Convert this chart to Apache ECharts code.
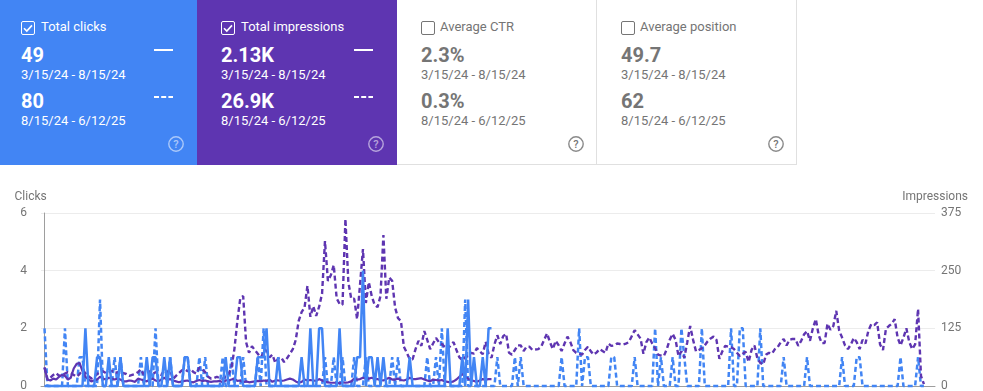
<!DOCTYPE html>
<html><head><meta charset="utf-8">
<script src="https://cdn.jsdelivr.net/npm/echarts@6/dist/echarts.min.js"></script>
<style>
html,body{margin:0;padding:0;width:983px;height:391px;background:#fff;overflow:hidden;font-family:Roboto,sans-serif}
#chart{position:absolute;left:0;top:166px;width:983px;height:226px}
.card{position:absolute;top:0;height:165px;box-sizing:border-box;color:#fff}
.card.off{color:#757575;border-right:1px solid #e0e0e0;border-bottom:1px solid #e0e0e0}
.card div,.card svg{position:absolute}
.t{top:19px;font-size:13px;line-height:16px;white-space:nowrap;font-weight:400}
.v{font-size:20px;line-height:24px;font-weight:700}
.d{font-size:13px;line-height:16px;white-space:nowrap}
.box{top:21px;width:14px;height:14px}
</style></head><body>
<div id="cards"></div>
<div id="chart"></div>
<script>
const cardTitles = ["Total clicks","Total impressions","Average CTR","Average position"];
const cardFirst = ["49","2.13K","2.3%","49.7"];
const cardSecond = ["80","26.9K","0.3%","62"];
const rangeFirst = "3/15/24 - 8/15/24";
const rangeSecond = "8/15/24 - 6/12/25";
const clicksTicks = [0,2,4,6];
const imprTicks = [0,125,250,375];

const clicksCurrent = [
0,0,0,0,0,0,0,0,0,0, 0,0,0,0,2,0,0,0,1,1, 0,0,1,0,0,0,1,0,0,0, 0,0,0,0,0,1,0,1,1,0,
0,1,0,1,0,0,0,0,1,1, 0,0,0,0,0,0,0,0,0,0, 0,0,1,0,0,0,1,1,0,0, 0,0,0,1,1,1,2,0,0,0,
1,0,0,0,0,0,0,0,1,0, 0,2,0,0,2,2,0,0,0,0, 0,2,0,0,0,0,0,1,1,4, 0,1,1,0,1,0,1,0,0,0,
0,0,0,0,0,1,0,0,0,0, 0,0,0,0,0,0,0,0,2,0, 0,0,0,1,0,3,0,1,0,0, 1,0,2,2];

const clicksDashed = [
2,0,0,0,0,0,0,2,0,0, 0,0,1,1,0,0,0,0,0,3, 0,0,0,0,1,0,1,0,0,0, 0,0,0,1,0,0,0,0,2,0,
0,0,0,1,0,0,0,0,1,1, 0,0,0,1,0,1,0,0,0,0, 0,1,0,0,1,0,0,0,1,0, 0,0,0,1,0,2,0,0,0,0,
0,0,0,0,0,0,0,0,0,0, 0,0,0,0,0,0,1,0,0,1, 0,0,1,0,0,0,1,0,0,0, 1,0,0,0,0,0,0,0,0,1,
0,1,0,0,0,0,0,0,0,0, 0,1,0,0,1,0,2,0,0,0, 0,0,0,0,3,0,0,0,0,0, 0,0,0,0,0,1,0,0,0,0,
0,1,0,1,0,0,0,0,0,0, 0,0,0,0,0,0,0,1,0,0, 0,0,0,2,0,1,1,0,0,0, 0,0,0,0,1,1,0,0,0,0,
0,0,1,0,0,0,0,0,0,2, 0,1,0,0,0,1,0,0,2,1, 0,0,0,0,0,2,0,0,0,0, 0,0,0,0,0,2,0,0,2,2,
0,0,0,0,0,2,0,0,0,0, 0,0,0,1,0,0,0,0,0,0, 0,1,0,0,0,0,0,0,0,0, 0,0,0,1,0,0,0,0,1,1,
0,0,0,0,0,0,0,0,0,0, 0,0,0,1,0,0,0,0,0,1, 0,0];

const imprCurrent = [
40,14,12,16,14,20,24,22,14,18, 38,48,50,32,20,14,10,12,14,20, 16,14,18,16,14,16,14,10,10,12,
11,9,16,14,12,10,14,16,12,10, 14,18,14,15,12,10,8,10,11,12, 9,8,11,13,11,12,10,9,10,10,
11,8,12,12,14,16,11,12,8,10, 8,9,10,11,10,12,11,14,9,12, 12,11,12,14,16,14,10,7,9,14,
12,13,12,11,15,12,9,8,7,7, 7,6,8,7,8,10,16,14,15,18, 16,16,18,15,15,13,12,15,18,14,
14,16,13,12,14,18,15,15,16,17, 14,12,10,14,13,12,13,10,9,8, 10,14,20,26,20,16,12,11,9,12,
15,14,15,15];

const imprDashed = [
40,14,18,24,28,22,24,27,30,28, 24,20,26,34,28,22,16,20,26,30, 32,28,30,33,28,30,24,28,26,22,
24,26,30,36,24,28,32,26,30,28, 24,34,30,35,15,22,28,34,36,32, 37,30,27,40,36,30,20,16,17,20,
17,15,22,26,40,80,140,190,195,95, 72,86,78,70,62,72,78,62,68,50, 60,62,52,60,70,80,100,141,160,170,
217,150,173,152,172,200,314,228,240,262, 190,178,176,362,225,189,189,145,220,297, 180,225,195,176,171,195,327,189,235,228,
170,147,141,85,72,58,58,80,98,87, 119,100,80,92,104,95,91,85,80,88, 95,78,62,56,62,65,72,70,82,75,
69,96,70,61,90,110,91,108,113,72, 68,78,88,88,76,85,85,78,79,80, 85,100,114,95,80,98,88,76,92,107,
95,78,72,70,68,78,85,75,68,73, 80,76,72,92,87,88,92,91,90,92, 95,108,121,112,103,70,95,105,92,82,
68,66,65,80,100,113,100,65,75,61, 95,130,100,75,78,82,88,97,103,107, 100,59,75,87,85,84,80,72,65,70,
74,52,78,88,60,50,47,68,72,70, 80,85,95,102,88,100,102,102,87,98, 112,119,98,125,145,110,93,93,135,122,
130,163,120,105,88,80,90,104,95,80, 100,92,120,134,132,138,90,78,124,130, 135,145,105,88,105,125,95,80,90,167,
22,4];

const BLUE="#4285f4", PURPLE="#5e35b1", GREY="#757575";

// cards
const lefts=[0,197,397,597], widths=[197,200,200,200], bgs=[BLUE,PURPLE,"#fff","#fff"], pads=[21,24,24,24];
document.getElementById('cards').innerHTML = cardTitles.map((t,i)=>{
  const on=i<2, p=pads[i];
  const box = on
   ? `<svg class="box" style="left:${p}px" viewBox="0 0 14 14"><rect x=".5" y=".5" width="13" height="13" rx="1.5" fill="none" stroke="#fff"/><path d="M3 7.2l2.8 2.8L11 4.4" fill="none" stroke="#fff" stroke-width="1.6"/></svg>`
   : `<svg class="box" style="left:${p}px" viewBox="0 0 14 14"><rect x=".5" y=".5" width="13" height="13" rx="1.5" fill="none" stroke="#757575"/></svg>`;
  const legend = on
   ? `<svg style="left:${p+133}px;top:49px" width="20" height="3"><rect width="19" height="2" fill="#fff"/></svg>
      <svg style="left:${p+133}px;top:96px" width="20" height="3"><path d="M0 1H19" stroke="#fff" stroke-width="2" stroke-dasharray="5 2.2"/></svg>` : '';
  const cx=i==0?176:179;
  const help=`<svg style="left:${cx-9}px;top:135px;opacity:${on?.55:1}" width="18" height="18" viewBox="0 0 18 18"><circle cx="9" cy="9" r="7.2" fill="none" stroke="${on?'#fff':'#8a8a8a'}" stroke-width="1.4"/><text x="9" y="13" text-anchor="middle" font-size="11" font-weight="500" font-family="Roboto" fill="${on?'#fff':'#757575'}">?</text></svg>`;
  return `<div class="card ${on?'':'off'}" style="left:${lefts[i]}px;width:${widths[i]}px;background:${bgs[i]}">
    ${box}<div class="t" style="left:${p+(on?20:19)}px">${t}</div>
    <div class="v" style="left:${p}px;top:43px">${cardFirst[i]}</div><div class="d" style="left:${p}px;top:67px">${rangeFirst}</div>
    <div class="v" style="left:${p}px;top:89px">${cardSecond[i]}</div><div class="d" style="left:${p}px;top:113px">${rangeSecond}</div>
    ${legend}${help}</div>`;
}).join('');

const pairs = a => a.map((v,i)=>[i,v]);
const chart = echarts.init(document.getElementById('chart'),null,{renderer:'canvas'});
const lineBase = {type:'line',showSymbol:false,symbol:'none',clip:false,animation:false,silent:true};
const labelStyle = {color:GREY,fontFamily:'Roboto',fontSize:12};
chart.setOption({
  animation:false,
  grid:{left:41,right:48,top:47,bottom:6,outerBoundsMode:'none'},
  xAxis:{type:'value',min:-1.2,max:304.8,axisLabel:{show:false},axisTick:{show:false},splitLine:{show:false},
    axisLine:{show:true,onZero:false,lineStyle:{color:'#9e9e9e',width:1}}},
  yAxis:[
   {type:'value',min:clicksTicks[0],max:clicksTicks[3],interval:2,name:'Clicks',nameLocation:'end',nameGap:10,
    nameTextStyle:{color:GREY,fontFamily:'Roboto',fontSize:12,align:'left',padding:[0,0,0,-30]},
    axisLine:{show:true,lineStyle:{color:'#9e9e9e'}},axisTick:{show:false},
    axisLabel:{...labelStyle,margin:14},splitLine:{show:true,lineStyle:{color:'#ececec',width:1}}},
   {type:'value',position:'right',min:imprTicks[0],max:imprTicks[3],interval:125,name:'Impressions',nameLocation:'end',nameGap:10,
    nameTextStyle:{color:GREY,fontFamily:'Roboto',fontSize:12,align:'right',padding:[0,-33,0,0]},
    axisLine:{show:false},axisTick:{show:false},
    axisLabel:{...labelStyle,margin:6},splitLine:{show:false}}
  ],
  series:[
   {...lineBase,name:'Clicks 8/15/24 - 6/12/25',yAxisIndex:0,data:pairs(clicksDashed),lineStyle:{color:BLUE,width:2.5,type:[5,3]},z:2},
   {...lineBase,name:'Impressions 8/15/24 - 6/12/25',yAxisIndex:1,data:pairs(imprDashed),lineStyle:{color:PURPLE,width:2.4,type:[5,3]},z:3},
   {...lineBase,name:'Impressions 3/15/24 - 8/15/24',yAxisIndex:1,data:pairs(imprCurrent),lineStyle:{color:PURPLE,width:2.2},z:4},
   {...lineBase,name:'Clicks 3/15/24 - 8/15/24',yAxisIndex:0,data:pairs(clicksCurrent),lineStyle:{color:BLUE,width:2.5},z:5}
  ]
});
</script>
</body></html>
